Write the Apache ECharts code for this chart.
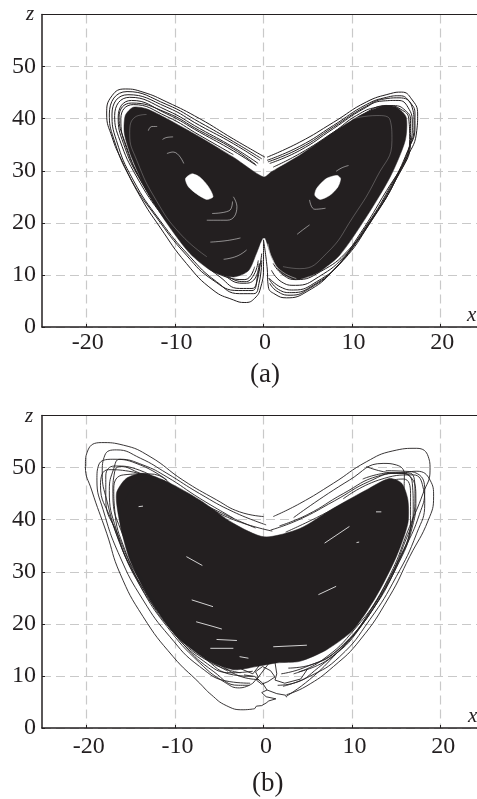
<!DOCTYPE html>
<html><head><meta charset="utf-8">
<style>html,body{margin:0;padding:0;background:#fff}#c{width:477px;height:799px}</style>
<script src="https://cdn.jsdelivr.net/npm/echarts@6/dist/echarts.min.js"></script>
</head><body><div id="c"></div>
<script>
const xTicks=[-20,-10,0,10,20];
const zTicks=[0,10,20,30,40,50];
// Panel (a): dark body
const aBody=[[0,28.8],[-3.4,32.6],[-7.2,36.5],[-10.9,40],[-13.2,41.9],[-14.7,42.2],[-15.6,40.6],[-15.7,37.1],[-14.9,32.6],[-13.2,26.2],[-10.9,19.9],[-8.3,14.1],[-5.7,10.6],[-3.4,9.6],[-1.7,10.8],[-.8,14.1],[-.1,17],[.2,17],[.9,13.5],[1.9,10.6],[3.6,9.1],[6,10.3],[8.6,13.8],[11.6,21.1],[14.3,28.8],[16,35.8],[16.1,40.3],[15,42.2],[13.5,42.5],[10.9,40.6],[7.9,37.4],[4.1,33],[.9,29.8]];
const aHoleL=[[-8.1,29.4],[-7.2,28.8],[-6.2,26.9],[-5.7,25],[-6.4,24.5],[-7.5,25.5],[-8.5,27],[-8.8,28.5]];
const aHoleR=[[8.3,29.1],[8.7,28.5],[8.4,26.9],[7.5,25.3],[6.4,24.5],[5.8,25.3],[6,26.6],[7.1,28.5]];
// Panel (a): contour lines
const aL1=[[.17,32.6],[-3.4,36.1],[-7.2,40],[-10.9,43.2],[-13.6,45.1],[-15.6,45.7],[-17.1,44.4],[-17.7,40.9],[-17.1,36.5],[-16,32],[-13.9,25],[-11.7,19.2],[-8.7,12.2],[-5.7,7.1],[-3.4,5.2],[-2.1,4.7],[-1,5.5],[-.3,7.7],[0,11.6],[0,16.7]];
const aL2=[[-.4,32],[-3.4,35.2],[-7.2,38.7],[-10.9,42.2],[-15.3,44.6],[-17.1,40.9],[-16.6,35.8],[-14.7,28.2],[-11.7,20.5],[-8.3,13.5],[-5.3,8.7],[-2.7,6.4],[-1.1,6.4],[-.5,8.4],[-.2,12.8]];
const aL3=[[-.6,31.4],[-3.4,34.5],[-7.2,38.1],[-10.9,41.6],[-15.1,44.1],[-16.8,40.6],[-16.2,35.8],[-14.3,28.8],[-11.3,21.1],[-7.9,14.1],[-4.9,9.6],[-2.7,7.4],[-1.3,7.4],[-.6,10.3],[-.2,14.1]];
const aL4=[[-.8,31],[-3.4,33.8],[-7.2,37.4],[-10.9,40.9],[-14.9,43.5],[-16.4,40.3],[-15.8,35.2],[-13.9,28.2],[-10.9,20.5],[-7.5,14.1],[-4.5,10],[-2.3,8.4],[-1.1,9],[-.5,12.2]];
const aL5=[[-3.4,33.1],[-7.2,36.8],[-10.9,40.4],[-14.7,42.7],[-16.1,40],[-15.5,34.5],[-13.6,27.5],[-10.6,19.9],[-7.2,13.5],[-4.2,9.6],[-2.1,9.1],[-1,11.6]];
const aL6=[[-.2,32.3],[-3.4,35.6],[-7.2,39.3],[-10.9,42.7],[-15.4,45.2],[-17.4,40.9],[-16.9,36.1],[-15,28.5],[-12.1,21.1],[-8.7,13.8],[-5.7,9],[-2.8,7],[-1.3,7],[-.7,9],[-.4,12.2]];
const aL7=[[-.9,31.2],[-3.4,34.2],[-7.2,37.7],[-11,41.2],[-14.9,43],[-16.3,40.3],[-15.7,35.8],[-13.7,27.8],[-10.7,20.2],[-7.4,13.8],[-4.3,10],[-2.1,8.7],[-1.1,10],[-.6,12.8]];
const aR1=[[0,16.7],[.4,11.6],[.55,7.7],[1.3,6.3],[2.6,5.6],[4.9,6.8],[7.9,10.9],[10.9,17.9],[13.9,26.2],[16.2,32.6],[17.3,37.7],[17.4,40.9],[16.7,43.8],[15.6,45.1],[14.3,44.8],[11.6,43.2],[7.9,39.3],[4.1,35.5],[.4,32.6]];
const aR2=[[.7,8.4],[1.5,6.9],[3,6.1],[5.2,7.4],[8.3,11.6],[11.3,18.6],[14.3,26.9],[16.3,33.9],[17.1,38.4],[17.1,40.9],[16.5,43.2],[15.4,44.4],[13.9,44.1],[11.6,42.7],[7.9,38.7],[4.1,34.7],[.4,32]];
const aR3=[[.7,9.3],[1.9,7.7],[3.4,7.1],[6,8.7],[9,12.8],[12,19.9],[14.7,27.5],[16.5,34.5],[16.8,39],[16.3,42.2],[15.2,43.5],[13.5,43.4],[11.3,41.9],[7.9,38.1],[4.1,33.9],[.7,31.4]];
const aR4=[[.9,10.9],[2,8.7],[3.6,8],[6.2,9.6],[9.4,14.1],[12.4,21.1],[15,28.5],[16.6,35.8],[16.6,39.7],[16,41.6],[14.7,42.5],[12.8,42.2],[10.5,40.6],[7.9,37.4],[4.1,33.3],[1.1,30.7]];
const aR5=[[1.1,12.2],[2.2,10],[3.7,9.1],[6.4,10.6],[9.6,14.8],[12.7,21.8],[15.2,29.4],[16.5,36],[16.4,40],[15.5,41.8],[14,42.5],[11.4,41],[7.9,36.9],[4.1,32.8],[1.4,30.2]];
const aR6=[[.6,9.4],[1.7,7.2],[3.2,6.6],[5.6,8],[8.6,12.2],[11.6,19.2],[14.5,27.2],[16.4,34.2],[17,38.7],[16.7,42.6],[15.3,44],[13.7,43.8],[11.5,42.3],[7.9,38.4],[4.1,34.3],[.5,31.7]];
// Panel (a): faint long gaps inside the body
const aGap1=[[-13.2,40.8],[-14.5,40.3],[-15.1,37.1],[-14.3,32],[-12.1,24.3],[-9.4,17.9],[-6.4,13.5]];
const aGap2=[[10.1,40],[12.8,40.6],[14.3,39.7],[14.5,35.8],[12.8,28.8],[10.1,21.1],[7.1,14.1],[4.1,11.2],[2.2,11.6]];
// Panel (a): short pale arcs
const aGap3=[[-.3,16.1],[-.8,12.3],[-1.9,9.6]];
const aGap4=[[.5,16],[.9,13.5],[1.9,10.9],[3.7,9.3]];
const aGap5=[[-6.4,20.5],[-4.1,20.5],[-3,23.1],[-3.4,25]];
const aGap6=[[-5.8,21.8],[-3.9,22.3],[-3.5,24.1]];
const aGap7=[[-6,16.3],[-4.1,16.6],[-2.6,17.1]];
const aGap8=[[-10.9,33.3],[-10.2,33.6],[-9,31.4]];
const aGap9=[[5.2,24.4],[5.8,22.6],[7,22.8]];
const aGap10=[[-13,37.7],[-12.6,38.5],[-12,38.5]];
const aGap11=[[-11.4,36],[-10.9,36.4],[-10.2,36.5]];
const aGap12=[[-4.5,13],[-3,13.6],[-1.9,14.8]];
const aGap13=[[8.2,29.9],[8.9,30.6],[9.6,31]];
const aGap14=[[3.8,17.8],[4.4,18.6],[5.2,19.6]];
// Panel (b): dark body
const bBody=[[.1,36.7],[-3.4,39.3],[-7.2,43.8],[-10.9,47.3],[-13.6,48.9],[-15.5,47.9],[-16.6,45],[-16.2,39.3],[-15.1,32.3],[-12.8,24.6],[-9.8,17.6],[-6.4,13.1],[-3.4,11.2],[-.8,11.8],[1.5,12.5],[4.1,12.8],[7.1,15],[10.1,18.8],[12.7,25.2],[15,32.9],[16.3,39.3],[16.3,43.8],[15.6,47],[14.2,47.9],[11.6,45.7],[7.9,42.2],[4.1,38.3]];
// Panel (b): irregular outer lines
const bL1=[[0,40.6],[-2.7,41.5],[-5.3,43.8],[-9.1,47.6],[-12.8,52.1],[-15.8,54.3],[-18.3,54.8],[-19.8,53.4],[-20.1,50.2],[-19.4,45.7],[-17.7,37.4],[-16.2,29.7],[-13.6,21.4],[-10.2,13.7],[-7.2,8.6],[-5.9,6.4],[-4.2,4.3],[-2.3,3.5],[-1,3.7]];
const bL2=[[.3,39],[-3.4,41.5],[-7.2,45],[-10.9,48.9],[-13.9,51.8],[-16.6,53.4],[-17.9,52.4],[-18.2,48.9],[-17.7,43.8],[-16.2,35.5],[-13.9,27.2],[-10.9,19.5],[-7.2,12.5],[-4.2,8.6],[-2.7,7.7],[-1.2,8.6]];
const bL3=[[-10.9,47.6],[-13.9,50.5],[-17,51.6],[-18.6,50.5],[-18.8,47.6],[-18.1,41.9],[-16.2,32.9],[-13.6,24.6],[-10.6,17.6],[-7.2,11.8],[-3.8,8.9],[-1.5,8.6]];
const bL4=[[-7.2,43.1],[-10.9,47],[-13.9,48.9],[-16.2,50.2],[-16.8,49.2],[-17,45],[-15.8,36.7],[-13.2,27.2],[-10.2,19.5],[-6.8,13.7],[-3.4,10.2],[-1.2,9.9]];
const bL5=[[-3.4,40.3],[-7.2,44.1],[-10.9,48.2],[-13.6,50.5],[-16.2,51.6],[-16.9,49.8],[-17.4,45.6],[-16.6,38],[-14.6,29.5],[-11.2,20.9],[-7.4,14.6],[-4,10.9]];
const bL6=[[1,37.8],[-3.4,40],[-7.2,43.3],[-10.9,46.5],[-14,49.5],[-16.8,50.3],[-17.8,48.4],[-17.8,44],[-16.4,37],[-14.5,30],[-11.6,22.6],[-8,15.5],[-4.8,12],[-2.4,9.8],[-.5,9.3]];
const bL7=[[-.9,38.4],[-5,41.5],[-9,45],[-13,48.8],[-15.8,48.6],[-16.9,46],[-16.8,42],[-15.6,34],[-13.4,26.2],[-10.4,18.8],[-6.8,12.9],[-3.6,10.6],[-1.2,10.9]];
const bL8=[[-4,39.6],[-8,43],[-12,47],[-15.2,49.3],[-17.5,49.6],[-18.4,46.6],[-17.2,40],[-15,31],[-12.2,23.4],[-9,16],[-5.6,10.8],[-2.8,8.2],[-1.6,8.2]];
const bL9=[[-3,38.4],[-6,41],[-9.6,45.6],[-12.4,47.8],[-14.2,47],[-15.6,44],[-16.2,41.6],[-15.4,35],[-13,26],[-9.9,18],[-6,12.6],[-2.6,10.6]];
const bR1=[[1.1,40.6],[4.1,43.1],[7.9,47],[11.6,51.1],[14.6,53.2],[17.3,53.7],[18.6,52.1],[18.8,49.5],[18,45],[16.5,38.7],[14.2,29.1],[10.9,19.5],[7.9,13.7],[5.2,9.3],[2.6,6.1]];
const bR2=[[11.6,50.2],[15.2,48.9],[17.3,49.3],[18.8,47.6],[19.2,44.4],[18.6,39.9],[16.5,32.9],[14.2,25.2],[10.9,16.9],[7.9,11.8],[4.8,8],[2.6,6.4]];
const bR3=[[3.4,40.4],[9.7,47.6],[13.5,50.8],[15,50.5],[15.9,48.6],[15.8,43.8]];
const bR4=[[9,44],[13,47.6],[16.9,48.6],[18,46.3],[18.2,43.1],[17.3,37.4],[15,29.1],[12,20.8],[8.6,13.7],[5.2,9.9],[2.2,8]];
const bR5=[[11.2,47.8],[14.5,49],[16.6,48.9],[17.1,45],[16.7,38.8],[14.6,30],[11.3,20.2],[7.6,13.5],[4,10.8]];
const bR6=[[.8,38],[4,40],[8,43.6],[12,47.4],[15,48.9],[16.6,48.2],[17.2,44],[16.8,38.6],[15,30.8],[12,22],[8.4,15],[4.6,11.6],[2,10.4]];
const bR7=[[1.8,38.8],[5,41],[9,45],[13,48.4],[15.6,49],[16.8,47],[16.9,42],[15.8,35],[13.6,27],[10.4,19.2],[6.6,13],[3.4,10.4]];
const bR8=[[2.5,37.6],[6,40.4],[10,44],[13.6,47],[15.8,47.8],[16.6,45],[16.6,40],[15.2,32],[12.6,24],[9,16],[5.5,12.2],[2.8,11.5]];
const bR9=[[13.8,49.4],[15.8,49.3],[17.4,48.8],[18.2,45.6],[17.6,41],[16,34.6],[13.2,25.2],[9.8,17.2],[6.2,11.6],[3.4,8.6],[1.6,8.2]];
// Panel (b): tangled lines near the bottom centre
const bKnot1=[[-1,3.7],[-.8,4.2],[-.2,4.3],[.3,4.8],[.6,5.2],[1.4,5.6],[.3,6],[-.2,6.8],[.4,7.3],[1.5,6.6],[2.5,6.3],[2.6,5.9]];
const bKnot2=[[-1.2,8.6],[-.6,9.8],[-.9,10.8],[-.1,11.8],[.8,11],[1.3,9.8],[.5,8.9],[-.2,8.4],[-.8,9.2],[-.3,10.4],[.6,12.4]];
const bKnot3=[[-2.2,10.2],[-1,9.9],[-.1,8.6],[.4,7.3]];
const bKnot4=[[1.3,12.6],[1.5,10.4],[1.3,9.2],[2.4,8.6],[4.2,9.4],[5,11.4]];
const bKnot5=[[-2.6,11.4],[-1.2,10.4],[-.2,12.6],[.4,13.4]];
// Panel (b): pale flecks in the body
const bFleck1=[[-8.7,32.9],[-6.9,31.2]];
const bFleck2=[[-7.6,20.4],[-5.7,19.5],[-4.7,19]];
const bFleck3=[[-8.1,24.6],[-5.7,23.3]];
const bFleck4=[[6.2,25.6],[8.2,27.2]];
const bFleck5=[[6.9,35.5],[9.7,38.7]];
const bFleck6=[[12.7,41.5],[13.3,41.5]];
const bFleck7=[[10.5,35.6],[10.8,35.7]];
const bFleck8=[[-14.1,42.5],[-13.6,42.6]];
const bFleck9=[[-6,15.3],[-3.4,15.3]];
const bFleck10=[[-2.7,13.7],[-1.7,13.4]];
const bFleck11=[[1.1,15.6],[4.9,15.9]];
const bFleck12=[[-5.3,17],[-3,16.8]];

const INK='#231f20';
const aLines=[aL1,aL2,aL3,aL4,aL5,aL6,aL7,aR1,aR2,aR3,aR4,aR5,aR6];
const aFaint=[aGap1,aGap2];
const aGaps=[aGap3,aGap4,aGap5,aGap6,aGap7,aGap8,aGap9,aGap10,aGap11,aGap12,aGap13,aGap14];
const bLines=[bL1,bL2,bL3,bL4,bL5,bL6,bL7,bL8,bL9,bR1,bR2,bR3,bR4,bR5,bR6,bR7,bR8,bR9];
const bKnots=[bKnot1,bKnot2,bKnot3,bKnot4,bKnot5];
const bFlecks=[bFleck1,bFleck2,bFleck3,bFleck4,bFleck5,bFleck6,bFleck7,bFleck8,bFleck9,bFleck10,bFleck11,bFleck12];

function poly(pts,idx,color,z){return {type:'custom',xAxisIndex:idx,yAxisIndex:idx,coordinateSystem:'cartesian2d',z:z,silent:true,clip:true,
  data:pts,encode:{x:0,y:1},
  renderItem:(p,api)=>p.dataIndex===0?{type:'polygon',shape:{points:pts.map(q=>api.coord(q)),smooth:0.25},style:{fill:color,stroke:color,lineWidth:.5}}:null};}
function line(pts,idx,color,w,smooth,z){return {type:'line',xAxisIndex:idx,yAxisIndex:idx,data:pts,showSymbol:false,symbol:'none',smooth:smooth,silent:true,z:z,
  lineStyle:{color:color,width:w}};}

const series=[
  poly(aBody,0,INK,3),
  ...aLines.map(l=>line(l,0,INK,1,.5,4)),
  ...aFaint.map(l=>line(l,0,'#ffffff',.25,.5,5)),
  ...aGaps.map(l=>line(l,0,'#ffffff',.5,.5,5)),
  poly(aHoleL,0,'#ffffff',6),poly(aHoleR,0,'#ffffff',6),
  poly(bBody,1,INK,3),
  ...bLines.map(l=>line(l,1,INK,.9,.5,4)),
  ...bKnots.map(l=>line(l,1,INK,.9,false,4)),
  ...bFlecks.map(l=>line(l,1,'#ffffff',.8,false,5)),
];
function xAx(g,m,shift){return {gridIndex:g,type:'value',min:-25,max:24.1,position:'bottom',
  axisLine:{show:true,onZero:false,lineStyle:{color:INK,width:1.5}},
  axisTick:{show:true,inside:true,length:3,customValues:xTicks,lineStyle:{color:INK,width:1}},
  axisLabel:{show:true,customValues:xTicks,color:INK,fontFamily:'Liberation Serif',fontSize:24,margin:m,padding:[0,0,0,shift]},
  splitLine:{show:true,lineStyle:{color:'#c9c9c9',width:1.2,type:[9,5]}}};}
function yAx(g){return {gridIndex:g,type:'value',min:0,max:60,interval:10,
  axisLine:{show:true,onZero:false,lineStyle:{color:INK,width:1.5}},
  axisTick:{show:true,inside:true,length:3,lineStyle:{color:INK,width:1}},
  axisLabel:{show:true,customValues:zTicks,color:INK,fontFamily:'Liberation Serif',fontSize:24,margin:6,padding:[0,0,4,0]},
  splitLine:{show:true,lineStyle:{color:'#c9c9c9',width:1.2,type:[9,5]}}};}
function topAx(g){return {gridIndex:g,type:'value',min:-25,max:24.1,position:'top',
  axisLine:{show:true,onZero:false,lineStyle:{color:INK,width:1}},axisTick:{show:false},axisLabel:{show:false},splitLine:{show:false}};}
function ttl(text,left,top,size,it){return {text:text,left:left,top:top,padding:0,textStyle:{fontFamily:'Liberation Serif',fontSize:size,fontStyle:it?'italic':'normal',fontWeight:'normal',color:INK}};}

const chart=echarts.init(document.getElementById('c'),null,{renderer:'canvas'});
chart.setOption({animation:false,backgroundColor:'#fff',
  title:[ttl('(a)',250,361,27,false),ttl('(b)',252,770,27,false),
         ttl('z',26,4,21,true),ttl('x',467,305,21,true),ttl('z',25,406,21,true),ttl('x',468,706,21,true)],
  grid:[{left:42,right:0,top:14.5,height:312.5},{left:42,right:0,top:415.5,height:312.5}],
  xAxis:[xAx(0,4,3),xAx(1,7,5),topAx(0),topAx(1)],
  yAxis:[yAx(0),yAx(1)],
  series:series});
</script></body></html>
